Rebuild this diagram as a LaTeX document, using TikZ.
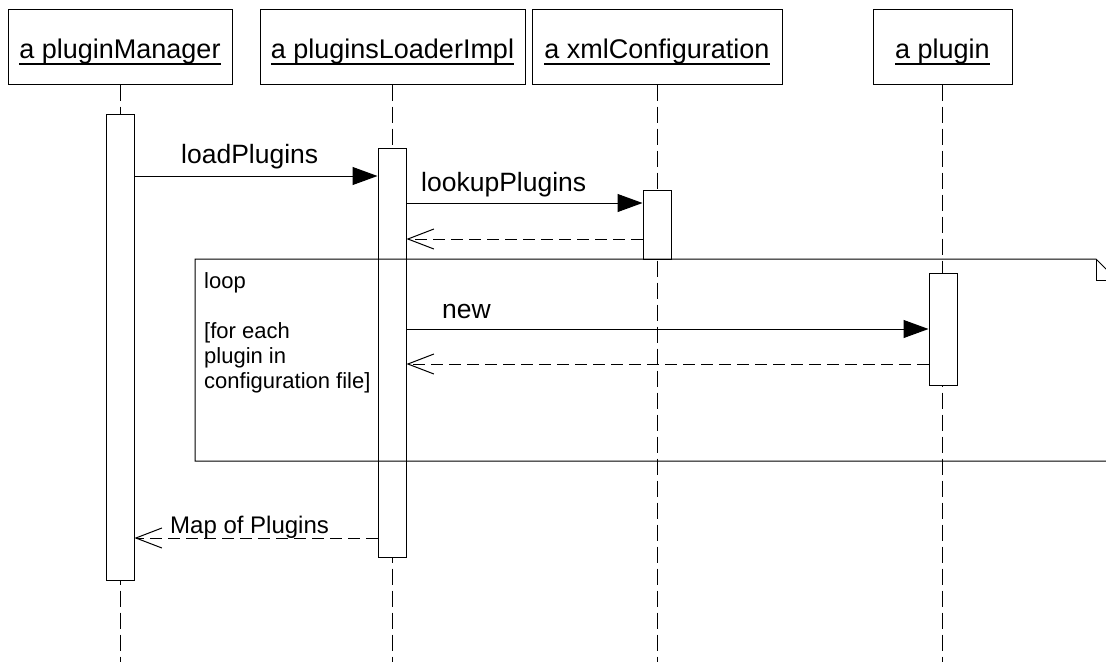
\documentclass[tikz,border=0pt]{standalone}
\usepackage{fontspec}
\setmainfont{Liberation Sans}
\usetikzlibrary{arrows.meta}
\newcommand\hdrul[1]{\setbox0\hbox{#1}\rlap{\rule[-7pt]{\wd0}{1.6pt}}\box0}
\begin{document}
\begin{tikzpicture}[x=1pt,y=-1pt,
  hdr/.style={draw=black, line width=1pt, fill=white, minimum width=#1, minimum height=75pt, inner sep=0pt,
    text height=30pt, text depth=7pt, font=\fontsize{27}{32}\selectfont},
  act/.style={draw=black, line width=1pt, fill=white, minimum width=28pt, inner sep=0pt},
  life/.style={line width=1pt, dash pattern=on 16pt off 6pt},
  msg/.style={line width=1pt, -{Triangle[length=25pt,width=18pt]}},
  ret/.style={line width=1pt, dash pattern=on 12pt off 6pt, -{Straight Barb[length=26pt,width=20pt,line width=1pt]}},
  mlbl/.style={font=\fontsize{26.5}{30}\selectfont, anchor=base west, inner sep=0pt},
  rlbl/.style={font=\fontsize{24}{28}\selectfont, anchor=base west, inner sep=0pt},
  lbl/.style={font=\fontsize{22}{25}\selectfont, anchor=base west, inner sep=0pt}]
\useasboundingbox (0,0) rectangle (1106,662);
\fill[white] (0,0) rectangle (1106,662);
\begin{scope}
\clip (0,0) rectangle (1106,662);
% headers
\node[hdr=224pt] (pm) at (120,46.5) {\hdrul{a pluginManager}};
\node[hdr=265pt] (ld) at (392.5,46.5) {\hdrul{a pluginsLoaderImpl}};
\node[hdr=250pt] (xml) at (657,46.5) {\hdrul{a xmlConfiguration}};
\node[hdr=139pt] (pl) at (942.5,46.5) {\hdrul{a plugin}};
% lifelines
\coordinate (pmEnd) at (120,662);
\coordinate (ldEnd) at (392.5,662);
\coordinate (xmlEnd) at (657,662);
\coordinate (plEnd) at (942.5,662);
\draw[life] (pm.south) -- (pmEnd);
\draw[life] (ld.south) -- (ldEnd);
\draw[life] (xml.south) -- (xmlEnd);
\draw[life] (pl.south) -- (plEnd);
% activations
\node[act, minimum height=466pt] (pmAct) at (120,347) {};
\node[act, minimum height=409pt] (ldAct) at (392,352.5) {};
\node[act, minimum height=69pt] (xmlAct) at (657,224.5) {};
\node[act, minimum height=112pt] (plAct) at (943,329) {};
% loop frame
\draw[line width=1pt] (1120,461) -- (195,461) -- (195,259) -- (1096,259) -- (1117,280);
\draw[line width=1pt] (1096,259) -- (1096,280) -- (1120,280);
\node[lbl] (loopLbl) at (204,288) {loop};
\node[lbl] (g1) at (204,338) {[for each};
\node[lbl] (g2) at (204,363) {plugin in};
\node[lbl] (g3) at (204,388) {configuration file]};
% messages
\draw[msg] (pmAct.east |- 0,176) -- (ldAct.west |- 0,176);
\node[mlbl] (m1) at (181,163) {loadPlugins};
\draw[msg] (ldAct.east |- 0,203) -- (xmlAct.west |- 0,203);
\node[mlbl] (m2) at (421,191) {lookupPlugins};
\draw[ret] (xmlAct.west |- 0,239) -- (ldAct.east |- 0,239);
\draw[msg] (ldAct.east |- 0,329) -- (plAct.west |- 0,329);
\node[mlbl] (m3) at (442,318.6) {new};
\draw[ret] (plAct.west |- 0,364) -- (ldAct.east |- 0,364);
\draw[ret] (ldAct.west |- 0,538) -- (pmAct.east |- 0,538);
\node[rlbl] (m4) at (170,533) {Map of Plugins};
\end{scope}
\end{tikzpicture}
\end{document}
